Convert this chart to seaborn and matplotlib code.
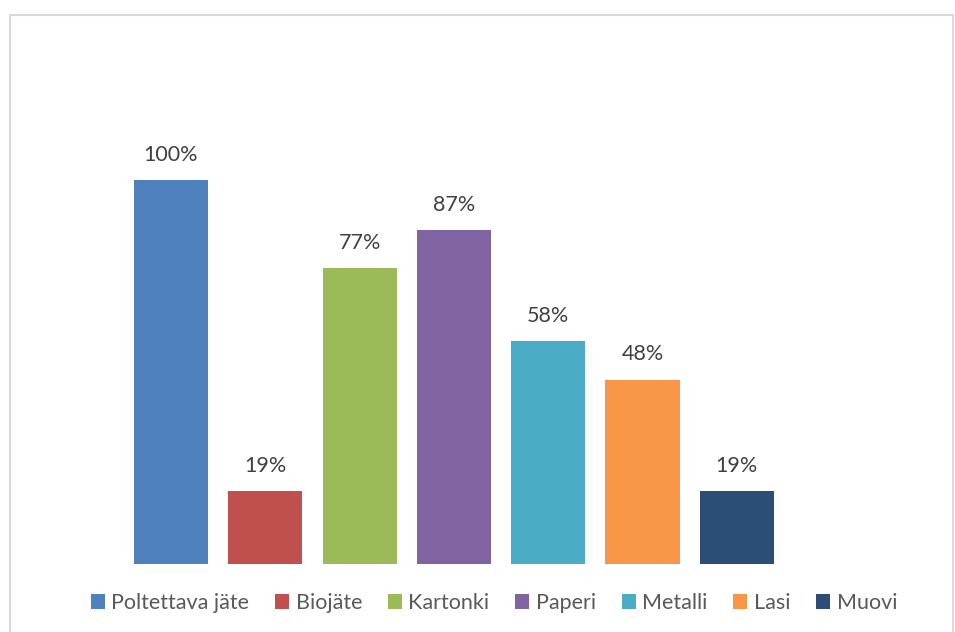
import pandas as pd
import numpy as np
import matplotlib.pyplot as plt
import matplotlib.patches as mpatches
import seaborn as sns

categories = ['Poltettava jäte', 'Biojäte', 'Kartonki', 'Paperi', 'Metalli', 'Lasi', 'Muovi']
values = [100, 19, 77, 87, 58, 48, 19]
colors = ['#4F81BD', '#C0504D', '#9BBB59', '#8064A2', '#4BACC6', '#F79646', '#2C4D75']

df = pd.DataFrame({'kategoria': categories, 'osuus': values})

sns.set_theme(style='white')
plt.rcParams['font.family'] = ['Lato', 'DejaVu Sans']

W, H = 955, 632
fig = plt.figure(figsize=(W / 100, H / 100), dpi=100)

# plot area in pixels: bar centres 171 + 94.3*i, baseline at y=564, 100% at y=180
step = 94.3
left = 171 - 0.5 * step
ax = fig.add_axes([left / W, (H - 564) / H, 7 * step / W, 384 / H])

sns.barplot(data=df, x='kategoria', y='osuus', hue='kategoria', palette=colors,
            width=0.785, saturation=1, legend=False, linewidth=0, ax=ax)
ax.set_xlim(-0.5, 6.5)
ax.set_ylim(0, 100)
ax.axis('off')

for i, v in enumerate(values):
    ax.annotate(f'{v}%', (i, v), xytext=(0, 11), textcoords='offset points',
                ha='center', va='bottom', fontsize=15.5, color='#404040')

handles = [mpatches.Patch(facecolor=c, edgecolor='none', label=l)
           for c, l in zip(colors, categories)]
fig.legend(handles=handles, loc='center', bbox_to_anchor=(494 / W, (H - 603) / H),
           ncol=7, frameon=False, fontsize=15.5, labelcolor='#595959',
           handlelength=0.65, handleheight=0.65, handletextpad=0.3,
           columnspacing=1.2, borderpad=0)

# light chart border, open at the bottom
fig.patches.append(mpatches.Rectangle((9.5 / W, -0.05), 943 / W, (H - 15) / H + 0.05,
                                      transform=fig.transFigure, fill=False,
                                      edgecolor='#D9D9D9', linewidth=1.5))

fig.savefig('out.png', dpi=100)
